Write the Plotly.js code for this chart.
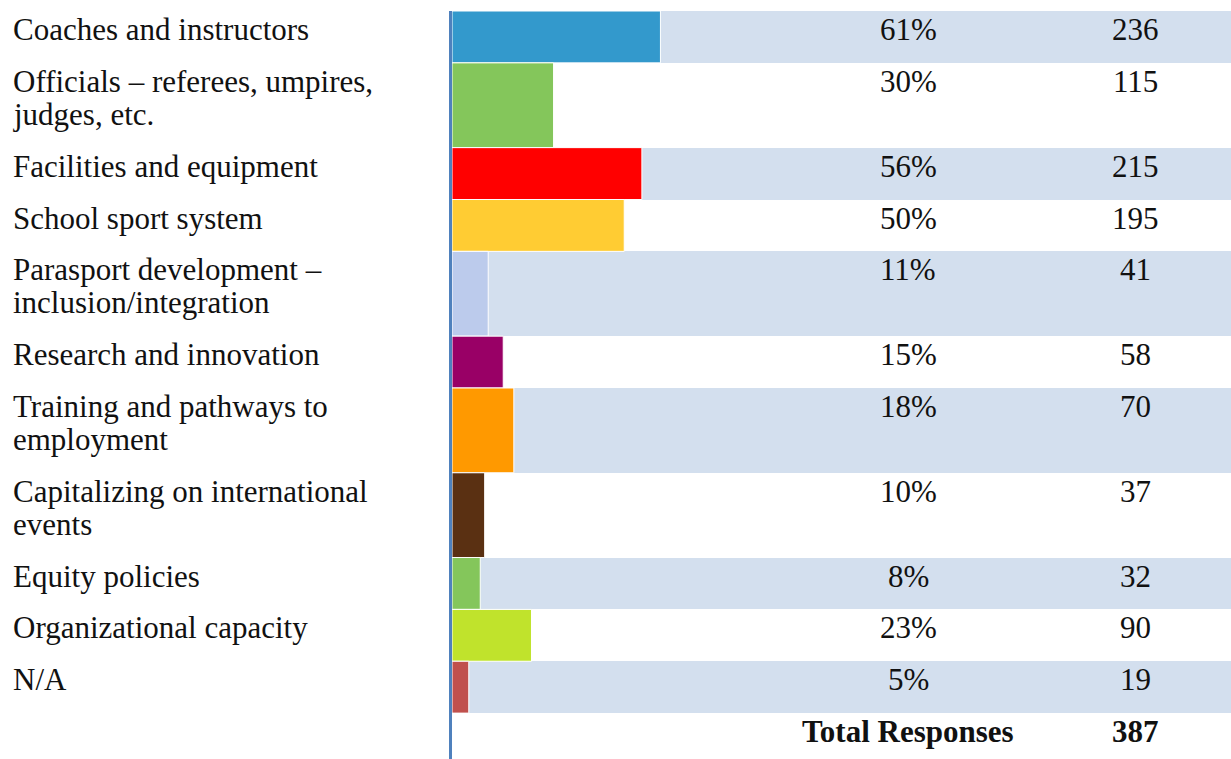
<!DOCTYPE html>
<html>
<head>
<meta charset="utf-8">
<script src="https://cdn.plot.ly/plotly-3.0.1.min.js"></script>
<style>html,body{margin:0;padding:0;background:#fff;}#chart{width:1231px;height:759px;}</style>
</head>
<body>
<div id="chart"></div>
<script>
// ---- data ----
const categories = [
  "Coaches and instructors",
  "Officials – referees, umpires,<br>judges, etc.",
  "Facilities and equipment",
  "School sport system",
  "Parasport development –<br>inclusion/integration",
  "Research and innovation",
  "Training and pathways to<br>employment",
  "Capitalizing on international<br>events",
  "Equity policies",
  "Organizational capacity",
  "N/A"
];
const percents = [61, 30, 56, 50, 11, 15, 18, 10, 8, 23, 5];
const counts = [236, 115, 215, 195, 41, 58, 70, 37, 32, 90, 19];
const totalLabel = "Total Responses";
const totalResponses = 387;
const barColors = ["#3399CC", "#84C65B", "#FF0000", "#FFCC33", "#BCCBEC", "#990066",
                   "#FF9900", "#5A3012", "#84C65B", "#C0E32C", "#C0504D"];

// ---- layout constants ----
const ROW_H1 = 52, ROW_H2 = 85, TOTAL_H = 46;
const LINE_H = 33;
const XMAX = 882;            // axis range in count units
const SHADE = "#D3DFEE";
const FONT = "Liberation Serif";
const FS = 31;

const heights = categories.map(c => c.split("<br>").length > 1 ? ROW_H2 : ROW_H1);
const tops = [];
let acc = 0;
heights.forEach(h => { tops.push(acc); acc += h; });
const centers = tops.map((t, i) => t + heights[i] / 2);
const totalTop = acc;
const yMax = acc + TOTAL_H;

const shadeX = categories.map((c, i) => (i % 2 === 0 ? XMAX : 0));

const traces = [
  {type: "bar", orientation: "h", y: centers, x: shadeX, width: heights,
   marker: {color: SHADE, line: {width: 0}}, hoverinfo: "skip", showlegend: false},
  {type: "bar", orientation: "h", y: centers, x: counts, width: heights,
   marker: {color: barColors, line: {color: "#ffffff", width: 1}}, showlegend: false}
];

const PX_LEFT = 452, PLOT_W = 1231 - PX_LEFT;
const pctX = (908 - PX_LEFT) / PLOT_W;
const cntX = (1135 - PX_LEFT) / PLOT_W;
const textFont = {family: FONT, size: FS, color: "#111111"};
const YS = 1;

const annotations = [];
categories.forEach((c, i) => {
  c.split("<br>").forEach((line, k) => {
    annotations.push({xref: "paper", yref: "y", x: 0, xshift: -(PX_LEFT - 11), y: tops[i], yshift: YS - k * LINE_H,
      xanchor: "left", yanchor: "top", align: "left", text: line, showarrow: false, font: textFont});
  });
  annotations.push({xref: "paper", yref: "y", x: pctX, y: tops[i], yshift: YS,
    xanchor: "center", yanchor: "top", text: percents[i] + "%", showarrow: false, font: textFont});
  annotations.push({xref: "paper", yref: "y", x: cntX, y: tops[i], yshift: YS,
    xanchor: "center", yanchor: "top", text: String(counts[i]), showarrow: false, font: textFont});
});
annotations.push({xref: "paper", yref: "y", x: pctX, y: totalTop, yshift: YS,
  xanchor: "center", yanchor: "top", text: "<b>" + totalLabel + "</b>", showarrow: false, font: textFont});
annotations.push({xref: "paper", yref: "y", x: cntX, y: totalTop, yshift: YS,
  xanchor: "center", yanchor: "top", text: "<b>" + totalResponses + "</b>", showarrow: false, font: textFont});

const layout = {
  width: 1231, height: 759,
  margin: {l: PX_LEFT, r: 0, t: 11, b: 0, pad: 0},
  paper_bgcolor: "#ffffff", plot_bgcolor: "#ffffff",
  barmode: "overlay", bargap: 0,
  showlegend: false,
  xaxis: {range: [0, XMAX], showgrid: false, zeroline: false, showticklabels: false, showline: false, ticks: "", fixedrange: true},
  yaxis: {range: [yMax, 0], showgrid: false, zeroline: false, showticklabels: false, ticks: "",
          showline: true, linecolor: "#4F81BD", linewidth: 3, fixedrange: true},
  annotations: annotations,
  font: {family: FONT}
};

Plotly.newPlot("chart", traces, layout, {displayModeBar: false, staticPlot: true});
</script>
</body>
</html>
